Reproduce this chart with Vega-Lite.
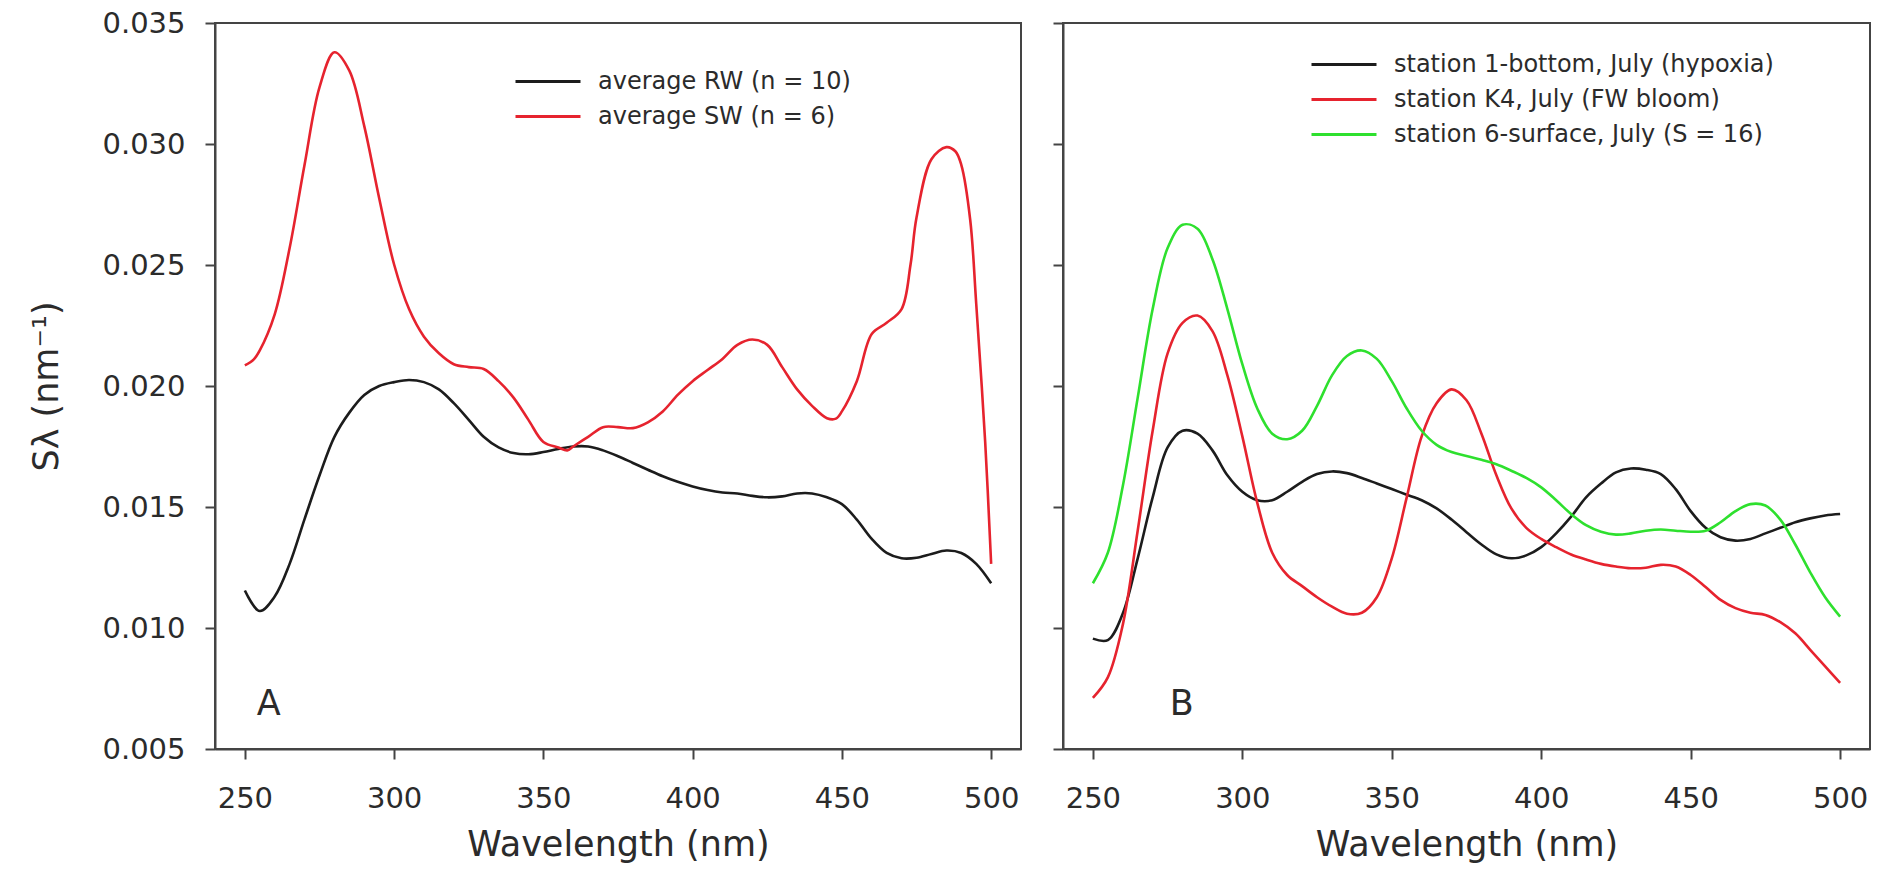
{
  "$schema": "https://vega.github.io/schema/vega-lite/v6.json",
  "background": "white",
  "padding": {"left": 28, "top": 8, "right": 15, "bottom": 6},
  "config": {
    "font": "DejaVu Sans",
    "view": {"stroke": "#444", "strokeWidth": 2},
    "axis": {"domainColor": "#444", "domainWidth": 2, "tickColor": "#444", "tickWidth": 2, "tickSize": 10, "labelFont": "DejaVu Sans", "labelFontSize": 29, "labelColor": "#2b2b2b", "titleFont": "DejaVu Sans", "titleFontSize": 35, "titleFontWeight": "normal", "titleColor": "#2b2b2b", "grid": false},
    "legend": {"orient": "none", "title": null, "symbolType": "stroke", "symbolSize": 4225, "symbolStrokeWidth": 3, "labelFont": "DejaVu Sans", "labelFontSize": 24, "labelColor": "#2b2b2b", "labelOffset": 16, "clipHeight": 35, "rowPadding": 0, "padding": 0, "labelLimit": 600}
  },
  "datasets": {
    "a": [
      {"wl":250,"s":0.01155,"series":"average RW (n = 10)"},{"wl":255,"s":0.0107,"series":"average RW (n = 10)"},{"wl":260,"s":0.0113,"series":"average RW (n = 10)"},{"wl":265,"s":0.01265,"series":"average RW (n = 10)"},{"wl":270,"s":0.0145,"series":"average RW (n = 10)"},{"wl":275,"s":0.0163,"series":"average RW (n = 10)"},{"wl":280,"s":0.0179,"series":"average RW (n = 10)"},{"wl":285,"s":0.0189,"series":"average RW (n = 10)"},{"wl":290,"s":0.01963,"series":"average RW (n = 10)"},{"wl":295,"s":0.0200,"series":"average RW (n = 10)"},{"wl":300,"s":0.02016,"series":"average RW (n = 10)"},{"wl":305,"s":0.02025,"series":"average RW (n = 10)"},{"wl":310,"s":0.02016,"series":"average RW (n = 10)"},{"wl":315,"s":0.01986,"series":"average RW (n = 10)"},{"wl":320,"s":0.01929,"series":"average RW (n = 10)"},{"wl":325,"s":0.0186,"series":"average RW (n = 10)"},{"wl":330,"s":0.0179,"series":"average RW (n = 10)"},{"wl":335,"s":0.01746,"series":"average RW (n = 10)"},{"wl":340,"s":0.01723,"series":"average RW (n = 10)"},{"wl":345,"s":0.01718,"series":"average RW (n = 10)"},{"wl":350,"s":0.01727,"series":"average RW (n = 10)"},{"wl":355,"s":0.0174,"series":"average RW (n = 10)"},{"wl":360,"s":0.0175,"series":"average RW (n = 10)"},{"wl":365,"s":0.0175,"series":"average RW (n = 10)"},{"wl":370,"s":0.01734,"series":"average RW (n = 10)"},{"wl":375,"s":0.0171,"series":"average RW (n = 10)"},{"wl":380,"s":0.01682,"series":"average RW (n = 10)"},{"wl":385,"s":0.01654,"series":"average RW (n = 10)"},{"wl":390,"s":0.01627,"series":"average RW (n = 10)"},{"wl":395,"s":0.01604,"series":"average RW (n = 10)"},{"wl":400,"s":0.01585,"series":"average RW (n = 10)"},{"wl":405,"s":0.0157,"series":"average RW (n = 10)"},{"wl":410,"s":0.0156,"series":"average RW (n = 10)"},{"wl":415,"s":0.01556,"series":"average RW (n = 10)"},{"wl":420,"s":0.01546,"series":"average RW (n = 10)"},{"wl":425,"s":0.0154,"series":"average RW (n = 10)"},{"wl":430,"s":0.01544,"series":"average RW (n = 10)"},{"wl":435,"s":0.01556,"series":"average RW (n = 10)"},{"wl":440,"s":0.01556,"series":"average RW (n = 10)"},{"wl":445,"s":0.0154,"series":"average RW (n = 10)"},{"wl":450,"s":0.01512,"series":"average RW (n = 10)"},{"wl":455,"s":0.01448,"series":"average RW (n = 10)"},{"wl":460,"s":0.01368,"series":"average RW (n = 10)"},{"wl":465,"s":0.0131,"series":"average RW (n = 10)"},{"wl":470,"s":0.01288,"series":"average RW (n = 10)"},{"wl":475,"s":0.0129,"series":"average RW (n = 10)"},{"wl":480,"s":0.01306,"series":"average RW (n = 10)"},{"wl":485,"s":0.0132,"series":"average RW (n = 10)"},{"wl":490,"s":0.0131,"series":"average RW (n = 10)"},{"wl":495,"s":0.01265,"series":"average RW (n = 10)"},{"wl":500,"s":0.01185,"series":"average RW (n = 10)"},
      {"wl":250,"s":0.02085,"series":"average SW (n = 6)"},{"wl":253,"s":0.0211,"series":"average SW (n = 6)"},{"wl":255,"s":0.02147,"series":"average SW (n = 6)"},{"wl":260,"s":0.02296,"series":"average SW (n = 6)"},{"wl":265,"s":0.0257,"series":"average SW (n = 6)"},{"wl":270,"s":0.02914,"series":"average SW (n = 6)"},{"wl":275,"s":0.03234,"series":"average SW (n = 6)"},{"wl":280,"s":0.03379,"series":"average SW (n = 6)"},{"wl":285,"s":0.03303,"series":"average SW (n = 6)"},{"wl":290,"s":0.03074,"series":"average SW (n = 6)"},{"wl":295,"s":0.02776,"series":"average SW (n = 6)"},{"wl":300,"s":0.02502,"series":"average SW (n = 6)"},{"wl":305,"s":0.02318,"series":"average SW (n = 6)"},{"wl":310,"s":0.02204,"series":"average SW (n = 6)"},{"wl":315,"s":0.02135,"series":"average SW (n = 6)"},{"wl":320,"s":0.0209,"series":"average SW (n = 6)"},{"wl":325,"s":0.02078,"series":"average SW (n = 6)"},{"wl":330,"s":0.0207,"series":"average SW (n = 6)"},{"wl":335,"s":0.0202,"series":"average SW (n = 6)"},{"wl":340,"s":0.01952,"series":"average SW (n = 6)"},{"wl":345,"s":0.0186,"series":"average SW (n = 6)"},{"wl":350,"s":0.01769,"series":"average SW (n = 6)"},{"wl":355,"s":0.01746,"series":"average SW (n = 6)"},{"wl":358,"s":0.01734,"series":"average SW (n = 6)"},{"wl":360,"s":0.0175,"series":"average SW (n = 6)"},{"wl":365,"s":0.0179,"series":"average SW (n = 6)"},{"wl":370,"s":0.0183,"series":"average SW (n = 6)"},{"wl":375,"s":0.0183,"series":"average SW (n = 6)"},{"wl":380,"s":0.01826,"series":"average SW (n = 6)"},{"wl":385,"s":0.0185,"series":"average SW (n = 6)"},{"wl":390,"s":0.01895,"series":"average SW (n = 6)"},{"wl":395,"s":0.01963,"series":"average SW (n = 6)"},{"wl":400,"s":0.0202,"series":"average SW (n = 6)"},{"wl":405,"s":0.02066,"series":"average SW (n = 6)"},{"wl":410,"s":0.02112,"series":"average SW (n = 6)"},{"wl":415,"s":0.0217,"series":"average SW (n = 6)"},{"wl":420,"s":0.02192,"series":"average SW (n = 6)"},{"wl":425,"s":0.0217,"series":"average SW (n = 6)"},{"wl":430,"s":0.02078,"series":"average SW (n = 6)"},{"wl":435,"s":0.01986,"series":"average SW (n = 6)"},{"wl":440,"s":0.01918,"series":"average SW (n = 6)"},{"wl":445,"s":0.01867,"series":"average SW (n = 6)"},{"wl":448,"s":0.01865,"series":"average SW (n = 6)"},{"wl":450,"s":0.01895,"series":"average SW (n = 6)"},{"wl":455,"s":0.0202,"series":"average SW (n = 6)"},{"wl":460,"s":0.02215,"series":"average SW (n = 6)"},{"wl":465,"s":0.02261,"series":"average SW (n = 6)"},{"wl":470,"s":0.02318,"series":"average SW (n = 6)"},{"wl":473,"s":0.02502,"series":"average SW (n = 6)"},{"wl":475,"s":0.02696,"series":"average SW (n = 6)"},{"wl":480,"s":0.02937,"series":"average SW (n = 6)"},{"wl":485,"s":0.02987,"series":"average SW (n = 6)"},{"wl":488,"s":0.0297,"series":"average SW (n = 6)"},{"wl":490,"s":0.02914,"series":"average SW (n = 6)"},{"wl":493,"s":0.02685,"series":"average SW (n = 6)"},{"wl":495,"s":0.0234,"series":"average SW (n = 6)"},{"wl":498,"s":0.01769,"series":"average SW (n = 6)"},{"wl":500,"s":0.01265,"series":"average SW (n = 6)"}
    ],
    "b": [
      {"wl":250,"s":0.00956,"series":"station 1-bottom, July (hypoxia)"},{"wl":255,"s":0.0095,"series":"station 1-bottom, July (hypoxia)"},{"wl":260,"s":0.0106,"series":"station 1-bottom, July (hypoxia)"},{"wl":265,"s":0.01288,"series":"station 1-bottom, July (hypoxia)"},{"wl":270,"s":0.0154,"series":"station 1-bottom, July (hypoxia)"},{"wl":275,"s":0.01746,"series":"station 1-bottom, July (hypoxia)"},{"wl":280,"s":0.01815,"series":"station 1-bottom, July (hypoxia)"},{"wl":285,"s":0.01803,"series":"station 1-bottom, July (hypoxia)"},{"wl":290,"s":0.01734,"series":"station 1-bottom, July (hypoxia)"},{"wl":295,"s":0.01631,"series":"station 1-bottom, July (hypoxia)"},{"wl":300,"s":0.01563,"series":"station 1-bottom, July (hypoxia)"},{"wl":305,"s":0.01528,"series":"station 1-bottom, July (hypoxia)"},{"wl":310,"s":0.01528,"series":"station 1-bottom, July (hypoxia)"},{"wl":315,"s":0.01563,"series":"station 1-bottom, July (hypoxia)"},{"wl":320,"s":0.01604,"series":"station 1-bottom, July (hypoxia)"},{"wl":325,"s":0.01636,"series":"station 1-bottom, July (hypoxia)"},{"wl":330,"s":0.01647,"series":"station 1-bottom, July (hypoxia)"},{"wl":335,"s":0.0164,"series":"station 1-bottom, July (hypoxia)"},{"wl":340,"s":0.0162,"series":"station 1-bottom, July (hypoxia)"},{"wl":345,"s":0.01597,"series":"station 1-bottom, July (hypoxia)"},{"wl":350,"s":0.01574,"series":"station 1-bottom, July (hypoxia)"},{"wl":355,"s":0.01551,"series":"station 1-bottom, July (hypoxia)"},{"wl":360,"s":0.01528,"series":"station 1-bottom, July (hypoxia)"},{"wl":365,"s":0.01494,"series":"station 1-bottom, July (hypoxia)"},{"wl":370,"s":0.01448,"series":"station 1-bottom, July (hypoxia)"},{"wl":375,"s":0.01396,"series":"station 1-bottom, July (hypoxia)"},{"wl":380,"s":0.01345,"series":"station 1-bottom, July (hypoxia)"},{"wl":385,"s":0.01304,"series":"station 1-bottom, July (hypoxia)"},{"wl":390,"s":0.01288,"series":"station 1-bottom, July (hypoxia)"},{"wl":395,"s":0.013,"series":"station 1-bottom, July (hypoxia)"},{"wl":400,"s":0.01334,"series":"station 1-bottom, July (hypoxia)"},{"wl":405,"s":0.01391,"series":"station 1-bottom, July (hypoxia)"},{"wl":410,"s":0.0146,"series":"station 1-bottom, July (hypoxia)"},{"wl":415,"s":0.0154,"series":"station 1-bottom, July (hypoxia)"},{"wl":420,"s":0.01597,"series":"station 1-bottom, July (hypoxia)"},{"wl":425,"s":0.01643,"series":"station 1-bottom, July (hypoxia)"},{"wl":430,"s":0.01659,"series":"station 1-bottom, July (hypoxia)"},{"wl":435,"s":0.01654,"series":"station 1-bottom, July (hypoxia)"},{"wl":440,"s":0.01636,"series":"station 1-bottom, July (hypoxia)"},{"wl":445,"s":0.01574,"series":"station 1-bottom, July (hypoxia)"},{"wl":450,"s":0.01483,"series":"station 1-bottom, July (hypoxia)"},{"wl":455,"s":0.01414,"series":"station 1-bottom, July (hypoxia)"},{"wl":460,"s":0.01375,"series":"station 1-bottom, July (hypoxia)"},{"wl":465,"s":0.01361,"series":"station 1-bottom, July (hypoxia)"},{"wl":470,"s":0.01368,"series":"station 1-bottom, July (hypoxia)"},{"wl":475,"s":0.01391,"series":"station 1-bottom, July (hypoxia)"},{"wl":480,"s":0.01414,"series":"station 1-bottom, July (hypoxia)"},{"wl":485,"s":0.01437,"series":"station 1-bottom, July (hypoxia)"},{"wl":490,"s":0.01453,"series":"station 1-bottom, July (hypoxia)"},{"wl":495,"s":0.01465,"series":"station 1-bottom, July (hypoxia)"},{"wl":500,"s":0.01471,"series":"station 1-bottom, July (hypoxia)"},
      {"wl":250,"s":0.00711,"series":"station K4, July (FW bloom)"},{"wl":255,"s":0.00796,"series":"station K4, July (FW bloom)"},{"wl":260,"s":0.01013,"series":"station K4, July (FW bloom)"},{"wl":265,"s":0.01403,"series":"station K4, July (FW bloom)"},{"wl":270,"s":0.01815,"series":"station K4, July (FW bloom)"},{"wl":275,"s":0.02135,"series":"station K4, July (FW bloom)"},{"wl":280,"s":0.02261,"series":"station K4, July (FW bloom)"},{"wl":285,"s":0.02291,"series":"station K4, July (FW bloom)"},{"wl":290,"s":0.02227,"series":"station K4, July (FW bloom)"},{"wl":295,"s":0.02044,"series":"station K4, July (FW bloom)"},{"wl":300,"s":0.01792,"series":"station K4, July (FW bloom)"},{"wl":305,"s":0.01517,"series":"station K4, July (FW bloom)"},{"wl":310,"s":0.01311,"series":"station K4, July (FW bloom)"},{"wl":315,"s":0.01219,"series":"station K4, July (FW bloom)"},{"wl":320,"s":0.01173,"series":"station K4, July (FW bloom)"},{"wl":325,"s":0.01127,"series":"station K4, July (FW bloom)"},{"wl":330,"s":0.01088,"series":"station K4, July (FW bloom)"},{"wl":335,"s":0.01059,"series":"station K4, July (FW bloom)"},{"wl":340,"s":0.01063,"series":"station K4, July (FW bloom)"},{"wl":345,"s":0.01127,"series":"station K4, July (FW bloom)"},{"wl":350,"s":0.01288,"series":"station K4, July (FW bloom)"},{"wl":355,"s":0.0154,"series":"station K4, July (FW bloom)"},{"wl":360,"s":0.01792,"series":"station K4, July (FW bloom)"},{"wl":365,"s":0.01929,"series":"station K4, July (FW bloom)"},{"wl":370,"s":0.01986,"series":"station K4, July (FW bloom)"},{"wl":375,"s":0.01941,"series":"station K4, July (FW bloom)"},{"wl":380,"s":0.01803,"series":"station K4, July (FW bloom)"},{"wl":385,"s":0.01631,"series":"station K4, July (FW bloom)"},{"wl":390,"s":0.01494,"series":"station K4, July (FW bloom)"},{"wl":395,"s":0.01414,"series":"station K4, July (FW bloom)"},{"wl":400,"s":0.01368,"series":"station K4, July (FW bloom)"},{"wl":405,"s":0.01334,"series":"station K4, July (FW bloom)"},{"wl":410,"s":0.01304,"series":"station K4, July (FW bloom)"},{"wl":415,"s":0.01283,"series":"station K4, July (FW bloom)"},{"wl":420,"s":0.01265,"series":"station K4, July (FW bloom)"},{"wl":425,"s":0.01254,"series":"station K4, July (FW bloom)"},{"wl":430,"s":0.01247,"series":"station K4, July (FW bloom)"},{"wl":435,"s":0.01249,"series":"station K4, July (FW bloom)"},{"wl":440,"s":0.01261,"series":"station K4, July (FW bloom)"},{"wl":445,"s":0.01254,"series":"station K4, July (FW bloom)"},{"wl":450,"s":0.01219,"series":"station K4, July (FW bloom)"},{"wl":455,"s":0.01169,"series":"station K4, July (FW bloom)"},{"wl":460,"s":0.01116,"series":"station K4, July (FW bloom)"},{"wl":465,"s":0.01082,"series":"station K4, July (FW bloom)"},{"wl":470,"s":0.01063,"series":"station K4, July (FW bloom)"},{"wl":475,"s":0.01054,"series":"station K4, July (FW bloom)"},{"wl":480,"s":0.01024,"series":"station K4, July (FW bloom)"},{"wl":485,"s":0.00978,"series":"station K4, July (FW bloom)"},{"wl":490,"s":0.0091,"series":"station K4, July (FW bloom)"},{"wl":495,"s":0.00841,"series":"station K4, July (FW bloom)"},{"wl":500,"s":0.00773,"series":"station K4, July (FW bloom)"},
      {"wl":250,"s":0.01185,"series":"station 6-surface, July (S = 16)"},{"wl":255,"s":0.01311,"series":"station 6-surface, July (S = 16)"},{"wl":260,"s":0.01586,"series":"station 6-surface, July (S = 16)"},{"wl":265,"s":0.01952,"series":"station 6-surface, July (S = 16)"},{"wl":270,"s":0.02318,"series":"station 6-surface, July (S = 16)"},{"wl":275,"s":0.0257,"series":"station 6-surface, July (S = 16)"},{"wl":280,"s":0.02666,"series":"station 6-surface, July (S = 16)"},{"wl":285,"s":0.0265,"series":"station 6-surface, July (S = 16)"},{"wl":290,"s":0.02524,"series":"station 6-surface, July (S = 16)"},{"wl":295,"s":0.02318,"series":"station 6-surface, July (S = 16)"},{"wl":300,"s":0.0209,"series":"station 6-surface, July (S = 16)"},{"wl":305,"s":0.01907,"series":"station 6-surface, July (S = 16)"},{"wl":310,"s":0.01803,"series":"station 6-surface, July (S = 16)"},{"wl":315,"s":0.0178,"series":"station 6-surface, July (S = 16)"},{"wl":320,"s":0.01815,"series":"station 6-surface, July (S = 16)"},{"wl":325,"s":0.01918,"series":"station 6-surface, July (S = 16)"},{"wl":330,"s":0.02044,"series":"station 6-surface, July (S = 16)"},{"wl":335,"s":0.02124,"series":"station 6-surface, July (S = 16)"},{"wl":340,"s":0.02147,"series":"station 6-surface, July (S = 16)"},{"wl":345,"s":0.02112,"series":"station 6-surface, July (S = 16)"},{"wl":350,"s":0.0202,"series":"station 6-surface, July (S = 16)"},{"wl":355,"s":0.01907,"series":"station 6-surface, July (S = 16)"},{"wl":360,"s":0.01815,"series":"station 6-surface, July (S = 16)"},{"wl":365,"s":0.01757,"series":"station 6-surface, July (S = 16)"},{"wl":370,"s":0.01727,"series":"station 6-surface, July (S = 16)"},{"wl":375,"s":0.01711,"series":"station 6-surface, July (S = 16)"},{"wl":380,"s":0.01695,"series":"station 6-surface, July (S = 16)"},{"wl":385,"s":0.01677,"series":"station 6-surface, July (S = 16)"},{"wl":390,"s":0.0165,"series":"station 6-surface, July (S = 16)"},{"wl":395,"s":0.0162,"series":"station 6-surface, July (S = 16)"},{"wl":400,"s":0.01581,"series":"station 6-surface, July (S = 16)"},{"wl":405,"s":0.01528,"series":"station 6-surface, July (S = 16)"},{"wl":410,"s":0.01471,"series":"station 6-surface, July (S = 16)"},{"wl":415,"s":0.01425,"series":"station 6-surface, July (S = 16)"},{"wl":420,"s":0.01398,"series":"station 6-surface, July (S = 16)"},{"wl":425,"s":0.01386,"series":"station 6-surface, July (S = 16)"},{"wl":430,"s":0.01391,"series":"station 6-surface, July (S = 16)"},{"wl":435,"s":0.01402,"series":"station 6-surface, July (S = 16)"},{"wl":440,"s":0.01407,"series":"station 6-surface, July (S = 16)"},{"wl":445,"s":0.01402,"series":"station 6-surface, July (S = 16)"},{"wl":450,"s":0.01398,"series":"station 6-surface, July (S = 16)"},{"wl":455,"s":0.01402,"series":"station 6-surface, July (S = 16)"},{"wl":460,"s":0.01437,"series":"station 6-surface, July (S = 16)"},{"wl":465,"s":0.01483,"series":"station 6-surface, July (S = 16)"},{"wl":470,"s":0.01512,"series":"station 6-surface, July (S = 16)"},{"wl":475,"s":0.01506,"series":"station 6-surface, July (S = 16)"},{"wl":480,"s":0.01448,"series":"station 6-surface, July (S = 16)"},{"wl":485,"s":0.01345,"series":"station 6-surface, July (S = 16)"},{"wl":490,"s":0.0123,"series":"station 6-surface, July (S = 16)"},{"wl":495,"s":0.01127,"series":"station 6-surface, July (S = 16)"},{"wl":500,"s":0.01047,"series":"station 6-surface, July (S = 16)"}
    ],
    "labelA": [{"wl": 258, "s": 0.00688, "label": "A"}],
    "labelB": [{"wl": 279.7, "s": 0.00688, "label": "B"}]
  },
  "spacing": 29,
  "resolve": {"scale": {"color": "independent"}, "legend": {"color": "independent"}},
  "hconcat": [
    {
      "width": 806,
      "height": 726,
      "layer": [
        {
          "data": {"name": "a"},
          "mark": {"type": "line", "interpolate": "catmull-rom", "strokeWidth": 2.6},
          "encoding": {
            "x": {"field": "wl", "type": "quantitative", "scale": {"domain": [240, 510], "nice": false, "zero": false}, "axis": {"values": [250, 300, 350, 400, 450, 500], "title": "Wavelength (nm)", "labelPadding": 25, "titlePadding": 14}},
            "y": {"field": "s", "type": "quantitative", "scale": {"domain": [0.005, 0.035], "nice": false, "zero": false}, "axis": {"values": [0.005, 0.01, 0.015, 0.02, 0.025, 0.03, 0.035], "format": ".3f", "title": "Sλ (nm⁻¹)", "labelPadding": 20, "titlePadding": 37}},
            "color": {"field": "series", "type": "nominal", "scale": {"domain": ["average RW (n = 10)", "average SW (n = 6)"], "range": ["#1c1c1c", "#e6232e"]}, "legend": {"legendX": 299, "legendY": 41}}
          }
        },
        {
          "data": {"name": "labelA"},
          "mark": {"type": "text", "fontSize": 35, "font": "DejaVu Sans", "color": "#2b2b2b", "align": "center", "baseline": "middle"},
          "encoding": {
            "x": {"field": "wl", "type": "quantitative"},
            "y": {"field": "s", "type": "quantitative"},
            "text": {"field": "label"}
          }
        }
      ]
    },
    {
      "width": 807,
      "height": 726,
      "layer": [
        {
          "data": {"name": "b"},
          "mark": {"type": "line", "interpolate": "catmull-rom", "strokeWidth": 2.6},
          "encoding": {
            "x": {"field": "wl", "type": "quantitative", "scale": {"domain": [240, 510], "nice": false, "zero": false}, "axis": {"values": [250, 300, 350, 400, 450, 500], "title": "Wavelength (nm)", "labelPadding": 25, "titlePadding": 14}},
            "y": {"field": "s", "type": "quantitative", "scale": {"domain": [0.005, 0.035], "nice": false, "zero": false}, "axis": {"values": [0.005, 0.01, 0.015, 0.02, 0.025, 0.03, 0.035], "labels": false, "title": null}},
            "color": {"field": "series", "type": "nominal", "scale": {"domain": ["station 1-bottom, July (hypoxia)", "station K4, July (FW bloom)", "station 6-surface, July (S = 16)"], "range": ["#1c1c1c", "#e6232e", "#2ee02e"]}, "legend": {"legendX": 247, "legendY": 24}}
          }
        },
        {
          "data": {"name": "labelB"},
          "mark": {"type": "text", "fontSize": 35, "font": "DejaVu Sans", "color": "#2b2b2b", "align": "center", "baseline": "middle"},
          "encoding": {
            "x": {"field": "wl", "type": "quantitative"},
            "y": {"field": "s", "type": "quantitative"},
            "text": {"field": "label"}
          }
        }
      ]
    }
  ]
}
